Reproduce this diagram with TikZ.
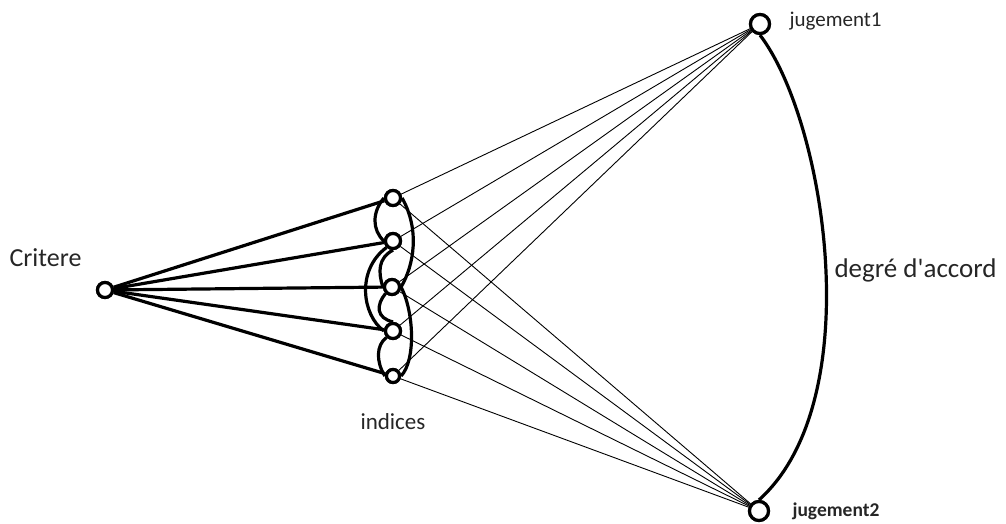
\documentclass[tikz,border=0pt]{standalone}
\usepackage{fontspec}
\setmainfont{Carlito}[Ligatures=TeXOff]
\begin{document}
\begin{tikzpicture}[x=1pt,y=-1pt,
  pt/.style={circle,draw,line width=3.2pt,fill=white,inner sep=0pt,minimum size=15pt},
  big/.style={pt,minimum size=19pt},
  thick link/.style={line width=3.2pt},
  thin link/.style={line width=0.9pt},
  lbl/.style={text=black!85}]
\useasboundingbox (0,0) rectangle (1006,524);
\node[pt] (c) at (105,290) {};
\node[pt] (i1) at (393,198) {};
\node[pt] (i2) at (393,241) {};
\node[pt] (i3) at (392,287) {};
\node[pt] (i4) at (393,331) {};
\node[pt,minimum size=13pt] (i5) at (393,376) {};
\node[big] (j1) at (760,24) {};
\node[big] (j2) at (759,511) {};
% thin links
\foreach \i in {i1,i2,i3,i4,i5}{
  \draw[thin link] (\i) -- (j1);
  \draw[thin link] (\i) -- (j2);
}
% thick links from critere
\foreach \i in {i1,i2,i3,i4,i5}{
  \draw[thick link] (c) -- (\i);
}
% loops among indices
\draw[thick link] (i1.west) .. controls (372,212) and (372,230) .. (i2.west);
\draw[thick link] (i1.east) .. controls (420,230) and (414,265) .. (i3.east);
\draw[thick link] (i3.east) .. controls (414,312) and (416,360) .. (i5.east);
\draw[thick link] (i2.south west) .. controls (356,270) and (362,315) .. (i4.west);
\draw[thick link] (i2.south) .. controls (378,258) and (378,272) .. (i3.west);
\draw[thick link] (i3.south west) .. controls (376,305) and (376,318) .. (i4.north);
\draw[thick link] (i4.south west) .. controls (376,345) and (376,362) .. (i5.west);
% degree of agreement arc
\draw[line width=3.2pt] (j1.south) .. controls (825,120) and (870,400) .. (j2.north);
\node[pt] at (i1) {};
\node[pt] at (i2) {};
\node[pt] at (i3) {};
\node[pt] at (i4) {};
\node[pt,minimum size=13pt] at (i5) {};
\node[pt] at (c) {};
\node[big] at (j1) {};
\node[big] at (j2) {};
% labels
\node[lbl,anchor=west,font=\fontsize{26}{28}\selectfont] (tc) at (6,258) {Critere};
\node[lbl,font=\fontsize{23}{26}\selectfont] (ti) at (393,422) {indices};
\node[lbl,anchor=west,font=\fontsize{27}{30}\selectfont] (td) at (831,270) {degré d'accord};
\node[lbl,anchor=west,font=\fontsize{21}{24}\selectfont] (t1) at (786,21) {jugement1};
\node[lbl,anchor=west,font=\bfseries\fontsize{19.5}{22}\selectfont] (t2) at (789,511) {jugement2};
\end{tikzpicture}
\end{document}
